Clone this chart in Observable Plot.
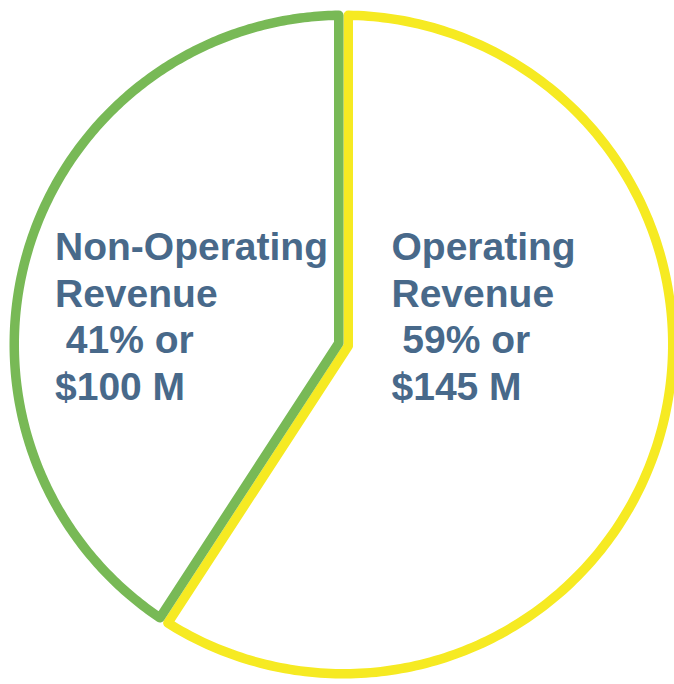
<!DOCTYPE html>
<html>
<head>
<meta charset="utf-8">
<script src="https://cdn.jsdelivr.net/npm/d3@7"></script>
<script src="https://cdn.jsdelivr.net/npm/@observablehq/plot@0.6"></script>
<style>
  html, body { margin: 0; padding: 0; background: #ffffff; }
  #chart svg { display: block; }
</style>
</head>
<body>
<div id="chart"></div>
<script>
// ---- data ----
const categories = ["Operating Revenue", "Non-Operating Revenue"];
const values = [145, 100];          // $ millions
const percents = [59, 41];
const colors = ["#f6ea22", "#78b956"];

// ---- layout (not data) ----
const W = 674, H = 684;
const cx = 343, cy = 344, Rpx = 334, strokeW = 9.5;
const labelPos = { "Operating Revenue": [391, 226], "Non-Operating Revenue": [54.5, 226] };

// slice outlines (inset so neighbouring strokes sit side by side)
const total = d3.sum(values);
const h = (strokeW / 2) / Rpx;
const r = 1 - h;
const u = a => [Math.sin(a), Math.cos(a)];
const outline = [];
let acc = 0;
categories.forEach((c, i) => {
  const a0 = acc, a1 = acc + values[i] / total * 2 * Math.PI;
  acc = a1;
  const span = a1 - a0, mid = (a0 + a1) / 2;
  const dv = h / Math.sin(span / 2);
  const V = u(mid).map(v => v * dv);
  const delta = Math.asin(h / r);
  outline.push({slice: c, x: V[0], y: V[1]});
  const n = 240;
  for (let k = 0; k <= n; k++) {
    const t = a0 + delta + (span - 2 * delta) * k / n;
    const p = u(t);
    outline.push({slice: c, x: p[0] * r, y: p[1] * r});
  }
  outline.push({slice: c, x: V[0], y: V[1]});
});

const toX = px => (px - cx) / Rpx;
const toY = py => (cy - py) / Rpx;
const labels = categories.map((c, i) => ({
  slice: c,
  x: toX(labelPos[c][0]),
  y: toY(labelPos[c][1]),
  text: c.replace(" ", "\n") + "\n\u00a0" + percents[i] + "% or\n$" + values[i] + " M"
}));

const chart = Plot.plot({
  width: W,
  height: H,
  margin: 0,
  style: { background: "#ffffff", fontFamily: "'Liberation Sans', Arial, sans-serif" },
  x: { domain: [-1, 1], range: [cx - Rpx, cx + Rpx], axis: null },
  y: { domain: [-1, 1], range: [cy + Rpx, cy - Rpx], axis: null },
  color: { domain: categories, range: colors },
  marks: [
    Plot.line(outline, {
      x: "x", y: "y", z: "slice", stroke: "slice",
      strokeWidth: strokeW, strokeLinejoin: "round", strokeLinecap: "round"
    }),
    Plot.text(labels, {
      x: "x", y: "y", text: "text",
      textAnchor: "start", lineAnchor: "top", lineHeight: 1.2,
      fontSize: 39, fontWeight: "bold", fill: "#48698a"
    })
  ]
});
document.getElementById("chart").appendChild(chart);
</script>
</body>
</html>
